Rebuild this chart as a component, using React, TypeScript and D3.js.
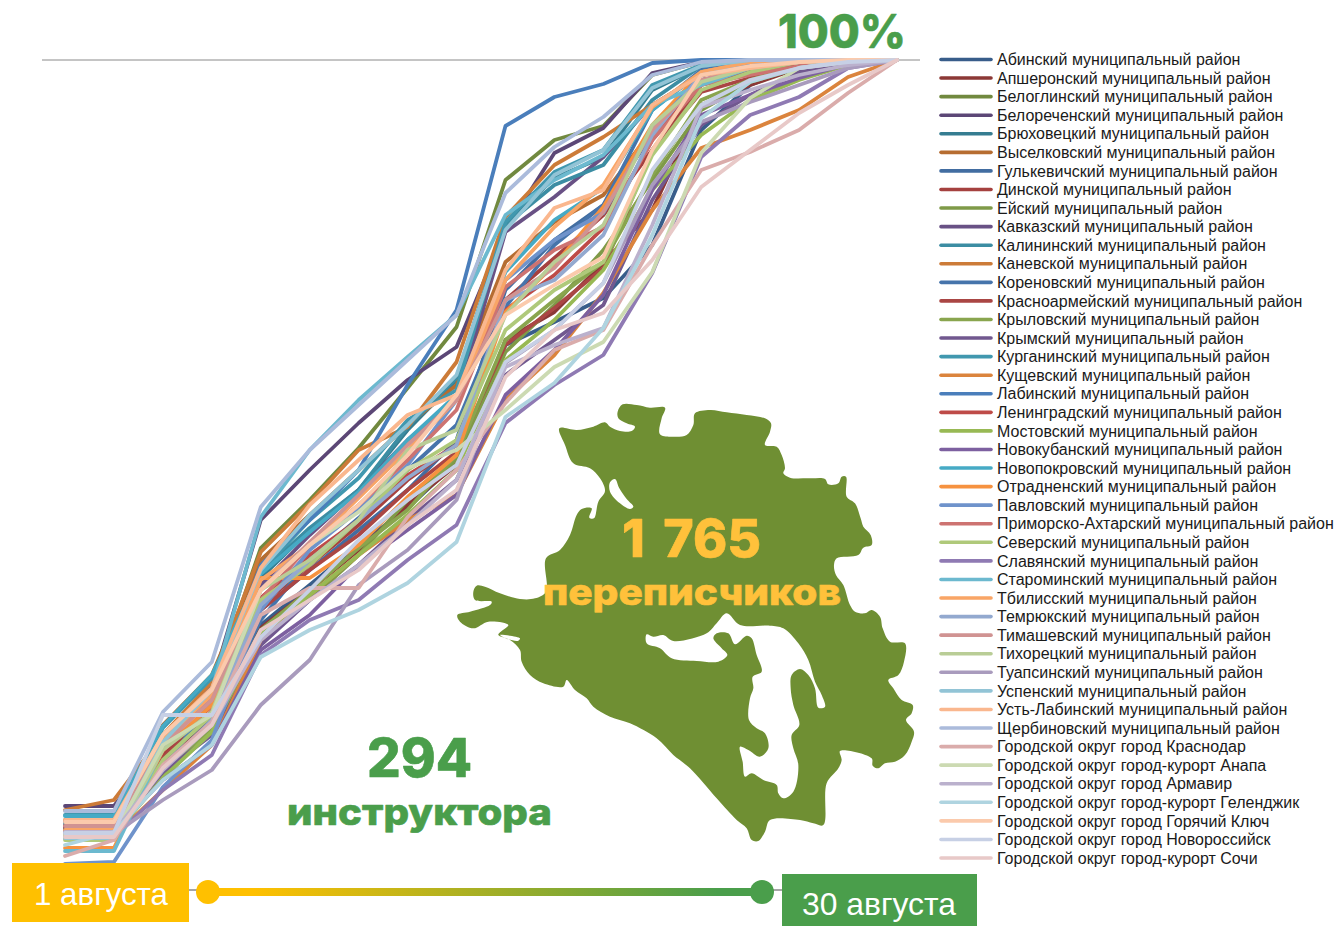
import React from 'react';
import * as d3 from 'd3';

const WIDTH = 1335;
const HEIGHT = 926;

// Eighteen reporting dates between 1 and 30 August (no axis in the picture)
const steps = d3.range(18);

const districts = [
  'Абинский муниципальный район',
  'Апшеронский муниципальный район',
  'Белоглинский муниципальный район',
  'Белореченский муниципальный район',
  'Брюховецкий муниципальный район',
  'Выселковский муниципальный район',
  'Гулькевичский муниципальный район',
  'Динской муниципальный район',
  'Ейский муниципальный район',
  'Кавказский муниципальный район',
  'Калининский муниципальный район',
  'Каневской муниципальный район',
  'Кореновский муниципальный район',
  'Красноармейский муниципальный район',
  'Крыловский муниципальный район',
  'Крымский муниципальный район',
  'Курганинский муниципальный район',
  'Кущевский муниципальный район',
  'Лабинский муниципальный район',
  'Ленинградский муниципальный район',
  'Мостовский муниципальный район',
  'Новокубанский муниципальный район',
  'Новопокровский муниципальный район',
  'Отрадненский муниципальный район',
  'Павловский муниципальный район',
  'Приморско-Ахтарский муниципальный район',
  'Северский муниципальный район',
  'Славянский муниципальный район',
  'Староминский муниципальный район',
  'Тбилисский муниципальный район',
  'Темрюкский муниципальный район',
  'Тимашевский муниципальный район',
  'Тихорецкий муниципальный район',
  'Туапсинский муниципальный район',
  'Успенский муниципальный район',
  'Усть-Лабинский муниципальный район',
  'Щербиновский муниципальный район',
  'Городской округ город Краснодар',
  'Городской округ город-курорт Анапа',
  'Городской округ город Армавир',
  'Городской округ город-курорт Геленджик',
  'Городской округ город Горячий Ключ',
  'Городской округ город Новороссийск',
  'Городской округ город-курорт Сочи',
];

const lineColors = [
  '#385D8A', '#8C3836', '#71893F', '#5C4776', '#357D91', '#B66D31',
  '#426DA1', '#A5413F', '#7F9A48', '#695185', '#3C8DA3', '#CC7B38',
  '#4674AB', '#AA4644', '#89A54E', '#71588F', '#4198AF', '#DB843D',
  '#4A7EBB', '#BE4B48', '#98B954', '#7D60A0', '#46AAC5', '#F69240',
  '#6F93CB', '#CD7371', '#AFC97A', '#8F7AB3', '#6CB9CF', '#F9A566',
  '#93A9CF', '#D09392', '#B9CD96', '#A99BBD', '#92C4D6', '#FAB78E',
  '#ABBBDB', '#DAACAB', '#CCDAB2', '#BBB1CD', '#AFD4E0', '#FBCAAC',
  '#C7D0E5', '#E8C9C8',
];

// Share done per district at each date
const progress = [
  [23.2, 23.2, 29.5, 33.8, 43.5, 47.5, 51.5, 55.2, 59.8, 71.5, 73.8, 76.2, 81.5, 93, 97.5, 99.4, 99.9, 100],
  [23, 23, 29.8, 34, 43.2, 47, 51, 55.5, 59.5, 72, 74.8, 79.7, 85, 95.5, 97.5, 99.2, 99.9, 100],
  [23.4, 23.4, 31, 37, 51.2, 56, 61.2, 67.2, 73.3, 88, 92, 93.4, 98.5, 99.8, 100, 100, 100, 100],
  [25.4, 25.4, 31.5, 37.5, 54, 59, 63.7, 68, 71.3, 83, 90.7, 93.2, 98.7, 99.8, 100, 100, 100, 100],
  [23.8, 23.8, 31.2, 37, 48.2, 53, 57, 63, 68, 83.5, 88.2, 90.3, 97, 99.4, 99.9, 100, 100, 100],
  [24, 24, 33.5, 38.5, 50, 54.5, 59, 63.5, 67.5, 79.8, 83.8, 86.5, 93, 98.5, 99.2, 99.7, 100, 100],
  [22.8, 22.8, 30, 34.5, 45, 49, 53, 57, 62, 77, 82, 85.5, 92.5, 98, 99, 99.6, 100, 100],
  [23.2, 23.2, 30.5, 34.8, 45.5, 49.5, 53.5, 58, 61.5, 76, 80.2, 84.5, 91, 97.5, 98.8, 99.6, 100, 100],
  [23, 23, 29, 33, 42, 46, 50.5, 56, 60, 70.8, 75.5, 81, 88, 95, 97.8, 99.2, 99.8, 100],
  [23.8, 23.8, 31.2, 36.5, 47.5, 52.5, 57, 62, 66, 82.8, 86.3, 90.3, 95.5, 98.5, 99.4, 99.8, 100, 100],
  [23.6, 23.6, 31.5, 37.2, 48.7, 53.2, 57, 63.3, 68.2, 83.5, 87.5, 89.5, 96, 99.4, 99.9, 100, 100, 100],
  [25, 26, 32.5, 37.8, 50.8, 55.7, 61, 63.3, 69.8, 84.3, 89.5, 92.3, 95.5, 98.5, 99.4, 99.8, 100, 100],
  [23, 23, 29, 33.8, 44, 50, 54.2, 59, 63.5, 75.3, 81.5, 85.5, 95, 99, 99.6, 99.9, 100, 100],
  [22.8, 22.8, 30.2, 34.8, 45, 49, 52.5, 57, 60.8, 71.5, 75.2, 79.2, 91, 96.8, 98.2, 99.4, 99.9, 100],
  [22.6, 22.6, 28.5, 33.2, 43, 47, 51.2, 55, 60.5, 72, 76, 79.8, 88.5, 96, 98, 99.4, 100, 100],
  [22.7, 22.7, 28.8, 32.5, 41.5, 46, 49.5, 54, 58, 68.5, 72, 75.5, 86, 93.5, 96.5, 98.8, 99.8, 100],
  [24.5, 24.5, 33.2, 38.2, 48.8, 54, 58.2, 64, 67, 83.8, 88.8, 91, 97.5, 99.5, 100, 100, 100, 100],
  [22.4, 22.4, 27, 31.5, 42, 46.5, 50.5, 54, 56.5, 66, 70.5, 76.7, 85, 91.2, 93, 95, 98.3, 100],
  [23.4, 23.4, 29, 36, 49.5, 54, 59, 67.5, 75, 93.4, 96.3, 97.6, 99.7, 100, 100, 100, 100, 100],
  [23.4, 23.4, 31, 35.4, 46.2, 50.5, 54, 58.5, 61.5, 75, 78.5, 83.2, 92, 98, 98.8, 99.5, 100, 100],
  [22.5, 22.5, 28.2, 32.8, 42.5, 46.5, 50.5, 54.5, 59, 70, 74, 79, 87, 92.5, 96, 98, 99.5, 100],
  [22.9, 22.9, 28, 31.5, 41, 44.5, 49.5, 53, 56.5, 66.5, 71, 76.5, 87, 94.5, 96.5, 98.2, 99.6, 100],
  [24.4, 24.4, 33.4, 38.5, 48.6, 52.8, 56.8, 62, 66.5, 78.8, 84, 87.2, 95, 98.8, 99.6, 100, 100, 100],
  [21.2, 21.2, 31, 35.5, 48.2, 48.2, 51.5, 56.3, 60.5, 74.8, 79.5, 85.3, 93.5, 98.8, 99.8, 100, 100, 100],
  [19.6, 19.8, 27.3, 32, 45, 51, 55, 59.5, 66, 78, 82, 84.7, 93, 98.5, 99.4, 99.8, 100, 100],
  [22.5, 22.5, 32.2, 36.5, 46, 51.5, 55.5, 60, 65, 77.3, 81, 83.3, 92, 97.5, 98.5, 99.4, 100, 100],
  [22, 22, 30, 34.5, 46, 49.5, 54, 59, 62, 73, 77, 79.8, 90.5, 97, 98.8, 99.8, 100, 100],
  [22.2, 22.2, 27, 30.5, 40.5, 44, 46, 50, 53.5, 63.7, 67.5, 70.5, 78.7, 90.3, 94.5, 96.3, 99.2, 100],
  [20.9, 20.9, 31.2, 37, 54.3, 61, 66, 70.3, 74.5, 84.5, 88, 90.5, 95.5, 97.5, 99.2, 99.8, 100, 100],
  [23, 23, 32, 36.5, 48, 51.5, 56.2, 61, 66, 78, 83.3, 87.5, 95.3, 98.8, 99.8, 100, 100, 100],
  [22.5, 22.5, 29.2, 34, 45.5, 50, 54, 58.2, 61.5, 76, 78, 82.5, 92.5, 98.5, 99.4, 99.8, 100, 100],
  [23.4, 23.4, 31.5, 36, 47, 51.8, 56.5, 61.5, 66, 76, 79.2, 84.8, 93, 98, 99.2, 99.8, 100, 100],
  [22.2, 22.2, 31, 34.8, 47, 50, 54, 61, 63, 74.5, 79.8, 83.5, 93.5, 97.8, 99.2, 99.8, 100, 100],
  [22.6, 22.6, 26, 29, 35.5, 40, 47.5, 51, 56, 69.7, 73, 77.7, 87.5, 93.8, 95.8, 97.5, 99.2, 100],
  [22.2, 22.2, 31.8, 37, 49, 54.5, 59, 63.5, 68.5, 83, 88.5, 91, 97.2, 99.4, 100, 100, 100, 100],
  [24, 24, 32.5, 37.2, 49.2, 55.5, 60, 64.5, 66.5, 79, 85.2, 87, 95.5, 98.5, 99.2, 99.8, 100, 100],
  [24.9, 24.9, 34.8, 39.8, 55.3, 61, 65.5, 70, 74.5, 86.7, 91.3, 94.3, 98.5, 99.8, 100, 100, 100, 100],
  [20.4, 22, 29.5, 33.8, 44.5, 47.2, 47.2, 54.3, 59, 65.7, 71, 73, 81.5, 89, 90.8, 93, 96.7, 100],
  [22.5, 22.5, 31.5, 34.5, 47, 51.5, 54.8, 59.2, 61, 65, 69.3, 71.8, 78.8, 90.7, 96.2, 99.2, 99.8, 100],
  [22.8, 22.8, 29, 33.5, 42, 46, 49.5, 53.5, 58, 69.3, 71.5, 73.2, 83.5, 95.3, 97, 98.5, 99.5, 100],
  [21.5, 22.8, 28, 31.5, 40.3, 43, 45, 47.7, 51.8, 64.3, 67.7, 73.2, 82.5, 94.2, 97.8, 99.2, 99.9, 100],
  [23.8, 23.8, 32.5, 37, 47, 51.5, 55.5, 60.5, 66.5, 74.5, 77.5, 80.3, 91, 98.5, 99.4, 99.8, 100, 100],
  [22.7, 22.7, 34.5, 34.5, 42.3, 47, 52, 56, 59.5, 69.8, 73, 77.7, 89, 95.5, 98, 99.2, 99.8, 100],
  [22.3, 22.3, 29.2, 33.5, 43, 46, 49, 53.5, 57, 68.3, 73, 74.7, 80, 87.3, 91, 94.7, 97.5, 100],
];

// Krasnodar Krai silhouette (decoration, not data)
const mapOutline =
  '328,100 380,105 430,95 465,82 480,95 510,108 545,108 555,95 530,85 505,70 503,50 518,28 560,30 600,38 645,38 ' +
  '635,70 630,118 680,125 710,120 730,90 735,55 780,45 830,52 890,60 945,70 963,85 960,110 945,150 980,155 995,180 ' +
  '1005,220 1000,235 1020,248 1080,250 1125,252 1135,268 1165,265 1175,245 1188,245 1190,305 1215,325 1232,370 ' +
  '1240,395 1262,420 1265,450 1240,458 1225,480 1160,490 1152,510 1158,540 1180,570 1200,630 1215,650 1245,655 ' +
  '1265,645 1290,665 1298,700 1320,740 1365,745 1362,800 1345,840 1315,855 1330,880 1355,915 1388,930 1385,955 ' +
  '1368,975 1392,1010 1385,1040 1365,1080 1335,1100 1305,1105 1285,1120 1268,1112 1265,1090 1170,1068 1175,1095 ' +
  '1165,1120 1130,1165 1120,1290 1090,1285 1050,1275 960,1275 945,1310 925,1338 905,1335 890,1300 860,1275 800,1210 ' +
  '720,1120 670,1080 620,1030 540,985 480,965 430,935 410,910 375,885 350,855 340,875 280,865 240,840 215,800 ' +
  '210,765 180,735 145,720 150,712 175,690 115,680 70,700 30,680 22,660 60,650 120,630 125,620 75,615 70,590 80,572 ' +
  '105,575 150,595 210,612 255,610 288,590 288,490 330,465 360,420 380,360 395,342 425,340 418,368 432,370 445,320 ' +
  '465,288 450,250 420,220 370,205 345,150';
const mapLagoon = '480,262 495,252 508,280 530,312 550,335 540,342 510,325 480,290';
const mapSliver = '150,720 210,730 205,737 175,733';
const mapReservoir =
  '830,655 870,690 960,692 1000,700 1045,745 1075,795 1095,860 1115,900 1125,935 1105,938 1095,880 1075,840 1050,822 ' +
  '1025,840 1022,880 1030,930 1048,990 1025,1020 1030,1060 1045,1110 1030,1190 1000,1210 985,1195 980,1170 940,1155 ' +
  '905,1135 885,1145 878,1100 870,1055 895,1065 930,1085 955,1060 945,1015 920,1000 897,975 900,910 910,880 908,845 ' +
  '935,830 920,780 905,730 890,722 855,748 835,715 800,715 790,730 815,760 832,780 805,800 740,798 665,790 630,760 ' +
  '590,745 590,718 610,725 640,720 670,738 770,715 800,685';

const GREEN = '#4A9E4B';
const YELLOW = '#FFC000';
const HEADLINE_FONT = 'Inter, "Open Sans", sans-serif';
const LABEL_FONT = '"Liberation Sans", Arial, sans-serif';

const toPoints = (outline: string) =>
  outline.split(' ').map(pair => pair.split(',').map(Number) as [number, number]);

const App: React.FC = () => {
  const x = d3.scaleLinear().domain([0, 17]).range([65, 897]);
  const y = d3.scaleLinear().domain([20, 100]).range([860, 60]);
  const legendY = d3.scaleLinear().domain([0, districts.length - 1]).range([59.5, 858]);

  const line = d3
    .line<number>()
    .x((_, i) => x(steps[i]))
    .y(d => y(d));

  // Smooth the traced outline so it doesn't read as a polygon
  const mapLine = d3.line().curve(d3.curveCatmullRomClosed.alpha(0.5));
  const mapPath = [mapOutline, mapLagoon, mapSliver, mapReservoir]
    .map(outline => mapLine(toPoints(outline)))
    .join(' ');

  return (
    <svg
      width={WIDTH}
      height={HEIGHT}
      style={{ position: 'absolute', left: 0, top: 0, display: 'block', background: '#fff' }}
    >
      <defs>
        <linearGradient id="timeline" x1="0" x2="1" y1="0" y2="0">
          <stop offset="8%" stopColor={YELLOW} />
          <stop offset="92%" stopColor={GREEN} />
        </linearGradient>
      </defs>

      {/* 100% reference line */}
      <line x1={42} x2={920} y1={y(100)} y2={y(100)} stroke="#8a8a8a" strokeWidth={1} />

      {/* Map sits under the last lines */}
      <g transform="translate(450,395) scale(0.33333)">
        <path d={mapPath} fill="#6F8F33" fillRule="evenodd" />
      </g>

      {/* District lines */}
      <g fill="none" strokeWidth={3.8} strokeLinejoin="round" strokeLinecap="round">
        {progress.map((values, i) => (
          <path key={districts[i]} d={line(values) as string} stroke={lineColors[i]} />
        ))}
      </g>

      {/* Legend */}
      <g>
        {districts.map((name, i) => (
          <g key={name} transform={`translate(0,${legendY(i)})`}>
            <line x1={941} x2={991} y1={0} y2={0} stroke={lineColors[i]} strokeWidth={3.6} strokeLinecap="round" />
            <text x={997} y={5.7} fontFamily={LABEL_FONT} fontSize={16} fill="#1a1a1a">
              {name}
            </text>
          </g>
        ))}
      </g>

      {/* Headline numbers */}
      <g fontFamily={HEADLINE_FONT} fontWeight={800} textAnchor="start" strokeWidth={0.6} strokeLinejoin="round">
        <text x={778} y={48} fontSize={47} fill={GREEN} stroke={GREEN} textLength={128} lengthAdjust="spacingAndGlyphs">
          100%
        </text>
        <text x={367} y={777} fontSize={54} fill={GREEN} stroke={GREEN} textLength={105} lengthAdjust="spacingAndGlyphs">
          294
        </text>
        <text x={287} y={825} fontSize={37} fill={GREEN} stroke={GREEN} textLength={265} lengthAdjust="spacingAndGlyphs">
          инструктора
        </text>
        <text
          x={622}
          y={557}
          fontSize={52}
          fill="#FFC13B"
          stroke="#FFC13B"
          textLength={139}
          lengthAdjust="spacingAndGlyphs"
          style={{ wordSpacing: '7px' }}
        >
          1 765
        </text>
        <text x={543} y={605} fontSize={37} fill="#FFC13B" stroke="#FFC13B" textLength={298} lengthAdjust="spacingAndGlyphs">
          переписчиков
        </text>
      </g>

      {/* Timeline */}
      <line x1={189} x2={782} y1={890} y2={890} stroke="#a6a6a6" strokeWidth={2} />
      <rect x={208} y={888} width={554} height={8} fill="url(#timeline)" />
      <circle cx={208} cy={892} r={12} fill={YELLOW} />
      <circle cx={762} cy={892} r={12} fill={GREEN} />
      <rect x={12} y={863} width={177} height={59} fill={YELLOW} />
      <rect x={782} y={874} width={195} height={52} fill={GREEN} />
      <g fontFamily={LABEL_FONT} fontSize={32} fill="#fff">
        <text x={34} y={905} textLength={134} lengthAdjust="spacingAndGlyphs">
          1 августа
        </text>
        <text x={802} y={915} textLength={154} lengthAdjust="spacingAndGlyphs">
          30 августа
        </text>
      </g>
    </svg>
  );
};

export default App;
